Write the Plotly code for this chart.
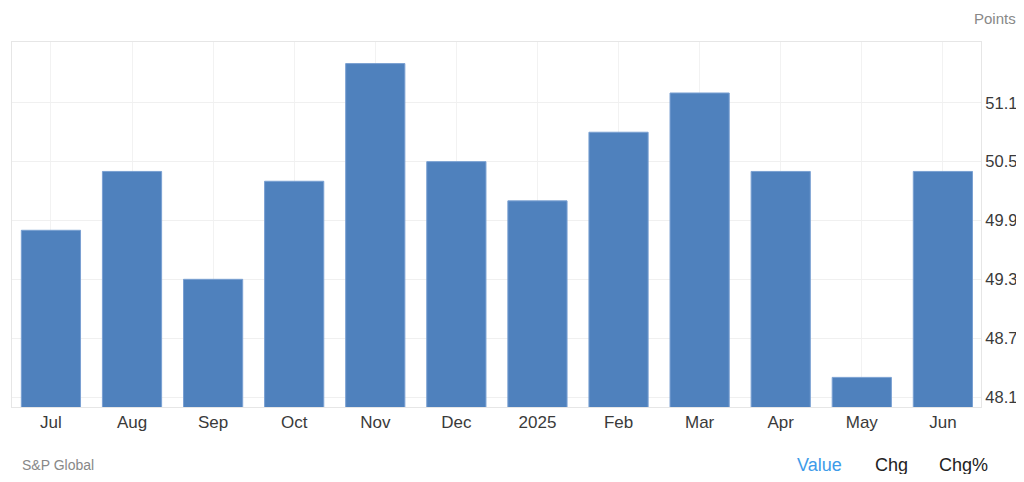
import plotly.graph_objects as go

categories = ["Jul", "Aug", "Sep", "Oct", "Nov", "Dec", "2025", "Feb", "Mar", "Apr", "May", "Jun"]
values = [49.8, 50.4, 49.3, 50.3, 51.5, 50.5, 50.1, 50.8, 51.2, 50.4, 48.3, 50.4]
y_ticks = [48.1, 48.7, 49.3, 49.9, 50.5, 51.1]

FONT = "Liberation Sans, Arial, sans-serif"

# page body has an 8px margin; work in reference pixel coords minus 8
OFF = 8
W, H = 1012, 466
plot_l, plot_r, plot_t, plot_b = 12 - OFF, 981 - OFF, 42 - OFF, 407 - OFF

fig = go.Figure()
fig.add_trace(go.Bar(
    x=categories, y=values,
    marker=dict(color="#4f81bd", line=dict(color="#7aa0d2", width=1)),
))

fig.update_layout(
    width=W, height=H,
    margin=dict(l=plot_l, r=W - plot_r, t=plot_t, b=H - plot_b, pad=0, autoexpand=False),
    paper_bgcolor="white", plot_bgcolor="white",
    bargap=0.27,
    showlegend=False,
    font=dict(family=FONT, color="#333333"),
    xaxis=dict(
        type="category", range=[-0.48, 11.47],
        showgrid=True, gridcolor="#f2f2f2", gridwidth=1,
        showline=True, linecolor="#e6e6e6", mirror=True,
        ticks="", tickfont=dict(size=17, color="#3a3a3a", family=FONT),
    ),
    yaxis=dict(
        side="right", range=[47.998, 51.72],
        tickvals=y_ticks, ticktext=[f"{v:.1f}" for v in y_ticks],
        showgrid=True, gridcolor="#f0f0f0", gridwidth=1,
        showline=True, linecolor="#e6e6e6", mirror=True,
        ticks="", tickfont=dict(size=16.5, color="#3a3a3a", family=FONT),
        zeroline=False,
    ),
)

def px_to_paper(px, py):
    px -= OFF
    py -= OFF
    return (px - plot_l) / (plot_r - plot_l), (plot_b - py) / (plot_b - plot_t)

ann_specs = [
    ("Points", 1018, 18, "right", 15, "#888888"),
    ("S&P Global", 20, 465, "left", 14, "#888888"),
    ("Value", 819, 465, "center", 18, "#3d9be9"),
    ("Chg", 891, 465, "center", 18, "#222222"),
    ("Chg%", 963, 465, "center", 18, "#222222"),
]
anns = []
for text, px, py, anchor, size, color in ann_specs:
    xp, yp = px_to_paper(px, py)
    anns.append(dict(text=text, x=xp, y=yp, xref="paper", yref="paper",
                     xanchor=anchor, yanchor="middle", showarrow=False,
                     font=dict(size=size, color=color, family=FONT)))
fig.update_layout(annotations=anns)

fig.write_html("out.html")
